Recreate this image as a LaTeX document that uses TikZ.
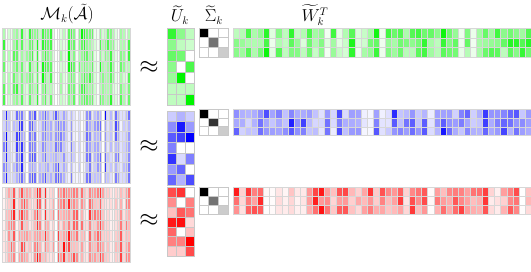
\documentclass[tikz,border=0pt]{standalone}
\usepackage{amsmath,amssymb}
\usepackage{tikz}
\definecolor{HeatGreen}{RGB}{0,245,0}
\definecolor{HeatBlue}{RGB}{0,0,255}
\definecolor{HeatRed}{RGB}{255,0,0}
\definecolor{CellGray}{RGB}{200,200,200}
\definecolor{LineGray}{RGB}{215,215,215}
\tikzset{
  cell/.style={draw=CellGray,line width=.3pt},
  thincell/.style={draw=LineGray,line width=.18pt},
  title/.style={font=\fontsize{16}{19}\selectfont},
  approx/.style={font=\fontsize{26}{30}\selectfont}
}
\newcommand{\randgrid}[8]{%
  \foreach \c in {1,...,#3}{
    \pgfmathsetmacro\w{rnd}
    \foreach \r in {1,...,#4}{
      \pgfmathtruncatemacro\v{100*(\w*(0.35+0.65*rnd))^#8}
      \draw[thincell,fill=#7!\v] ({#1+(\c-1)*#5},{#2+(\r-1)*#6}) rectangle ++(#5,#6);
    }
  }}
\newcommand{\datagrid}[6]{%
  \foreach \row [count=\r] in {#6}{
    \foreach \v [count=\c] in \row{
      \draw[cell,fill=#5!\v] ({#1+(\c-1)*#3},{#2+(\r-1)*#4}) rectangle ++(#3,#4);
    }
  }}
\begin{document}
\begin{tikzpicture}[x=1pt,y=-1pt]
  \useasboundingbox (0,0) rectangle (531,272);
  \pgfmathsetseed{4711}
  \node[title] (mtitle) at (67,14) {$\mathcal{M}_k(\tilde{\mathcal{A}})$};
  \node[title] (utitle) at (180,15) {$\widetilde{U}_k$};
  \node[title] (stitle) at (214,15) {$\widetilde{\Sigma}_k$};
  \node[title] (wtitle) at (315,15) {$\widetilde{W}_k^T$};
  % green
  \randgrid{2}{28}{49}{7}{2.612}{11}{HeatGreen}{1.1}
  \node[approx] (approxg) at (149,67) {$\approx$};
  \datagrid{167}{28}{9}{11}{HeatGreen}{{80,45,25},{45,25,20},{60,55,0},{45,0,70},{40,100,0},{25,25,25},{25,25,100}}
  \datagrid{199}{28}{9.6}{9.6}{black}{{100,0,0},{0,55,0},{0,0,20}}
  \randgrid{233}{28}{49}{3}{6.08}{9.6}{HeatGreen}{0.9}
  % blue
  \randgrid{2}{110}{49}{7}{2.612}{10.4}{HeatBlue}{1.1}
  \node[approx] (approxb) at (149,146) {$\approx$};
  \datagrid{167}{110.7}{9}{10.6}{HeatBlue}{{20,30,20},{45,90,40},{65,75,100},{50,0,0},{80,15,50},{40,60,0},{60,30,70}}
  \datagrid{199}{109}{9.6}{8.8}{black}{{100,0,0},{0,80,0},{0,0,20}}
  \randgrid{233}{109}{49}{3}{6.08}{8.8}{HeatBlue}{0.9}
  % red
  \randgrid{2}{187.5}{49}{7}{2.612}{10.7}{HeatRed}{1.1}
  \node[approx] (approxr) at (149,220) {$\approx$};
  \datagrid{167}{187.3}{9}{9.85}{HeatRed}{{70,80,0},{45,0,50},{25,65,55},{90,95,15},{60,0,25},{50,50,100},{20,20,70}}
  \datagrid{199}{187.3}{9.6}{8.8}{black}{{100,0,0},{0,55,0},{0,0,20}}
  \randgrid{233}{187.3}{49}{3}{6.08}{8.8}{HeatRed}{0.9}
\end{tikzpicture}
\end{document}
